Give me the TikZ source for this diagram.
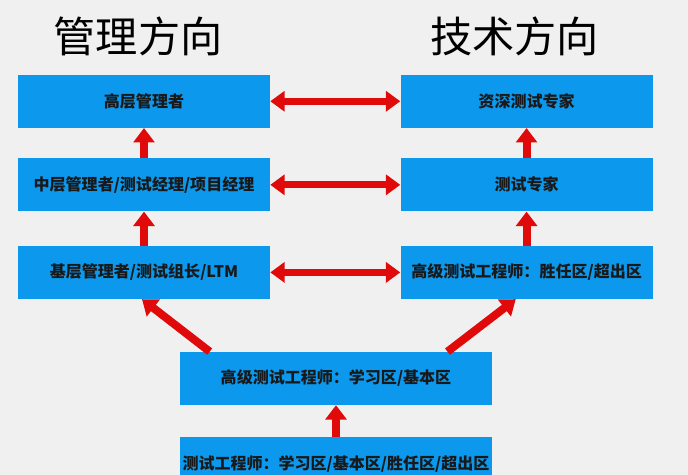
\documentclass[tikz,border=0pt]{standalone}
\usepackage{fontspec}
\newfontfamily\cjk{Noto Sans CJK SC}
\usepackage{tikz}
\usepackage{xcolor}
\usetikzlibrary{arrows.meta, positioning, shapes}

\definecolor{fond}{RGB}{240,240,240}
\definecolor{bleuBoite}{RGB}{12,152,236}
\definecolor{rougeFleche}{RGB}{225,10,10}

\begin{document}
\begin{tikzpicture}[
			node distance=0.8cm,
			% Styles des boites et des fleches
			titre/.style={font=\cjk\fontsize{30}{32}\selectfont, text=black},
			poste/.style={fill=bleuBoite, minimum width=6.3cm, minimum height=1.325cm, inner sep=2pt, font=\cjk\bfseries\fontsize{11.4}{13}\selectfont, text=black!90},
			posteLarge/.style={poste, minimum width=7.8cm},
			flecheDouble/.style={{Triangle[width=0.5cm, length=0.36cm]}-{Triangle[width=0.5cm, length=0.36cm]}, line width=0.17cm, rougeFleche},
			fleche/.style={-{Triangle[width=0.52cm, length=0.36cm]}, line width=0.2cm, rougeFleche},
			]

			\fill[fond] (0,0) rectangle (17.2,-11.875);
			\clip (0,0) rectangle (17.2,-11.875);

			\node[titre] (titreG) at (3.45,-0.9) {管理方向};
			\node[titre] (titreD) at (12.86,-0.9) {技术方向};

			% Colonne de gauche
			\node[poste] (basG) at (3.6,-6.81) {基层管理者/测试组长/LTM};
			\node[poste, above=0.85cm of basG] (milieuG) {中层管理者/测试经理/项目经理};
			\node[poste, above=0.75cm of milieuG] (hautG) {高层管理者};

			% Colonne de droite
			\node[poste, right=3.25cm of basG] (basD) {高级测试工程师：胜任区/超出区};
			\node[poste, right=3.25cm of milieuG] (milieuD) {测试专家};
			\node[poste, right=3.25cm of hautG] (hautD) {资深测试专家};

			% Bas
			\node[posteLarge] (senior) at (8.4,-9.46) {高级测试工程师：学习区/基本区};
			\node[posteLarge, below=0.8cm of senior] (junior) {测试工程师：学习区/基本区/胜任区/超出区};

			\draw[flecheDouble] (hautG) -- (hautD);
			\draw[flecheDouble] (milieuG) -- (milieuD);
			\draw[flecheDouble] (basG) -- (basD);

			\draw[fleche] (milieuG) -- (hautG);
			\draw[fleche] (basG) -- (milieuG);
			\draw[fleche] (milieuD) -- (hautD);
			\draw[fleche] (basD) -- (milieuD);

			\draw[fleche] ([xshift=0.75cm]senior.north west) -- ([xshift=-0.05cm]basG.south);
			\draw[fleche] ([xshift=-1.12cm]senior.north east) -- ([xshift=-0.27cm]basD.south);
			\draw[fleche] (junior) -- (senior);

		\end{tikzpicture}
\end{document}
